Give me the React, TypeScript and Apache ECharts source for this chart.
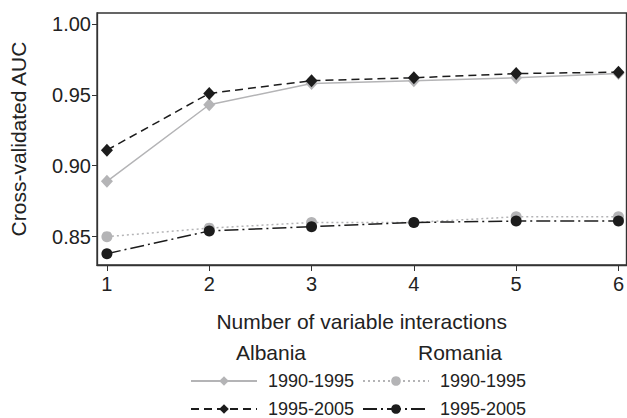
import React, { useEffect, useRef } from "react";
import * as echarts from "echarts";

const interactions = [1, 2, 3, 4, 5, 6];
const albania9095 = [0.889, 0.943, 0.958, 0.96, 0.962, 0.965];
const albania9505 = [0.911, 0.951, 0.96, 0.962, 0.965, 0.966];
const romania9095 = [0.85, 0.856, 0.86, 0.86, 0.864, 0.864];
const romania9505 = [0.838, 0.854, 0.857, 0.86, 0.861, 0.861];
const yTicks = [0.85, 0.9, 0.95, 1.0];
const countries = ["Albania", "Romania"];
const periods = ["1990-1995", "1995-2005"];

const GRAY = "#b4b4b6";
const BLACK = "#1c1c1c";
const FONT = "Liberation Sans, Arial, sans-serif";

function pairs(ys: number[]) {
  return interactions.map((x, i) => [x, ys[i]]);
}

export default function App() {
  const ref = useRef<HTMLDivElement>(null);
  useEffect(() => {
    if (!ref.current) return;
    const chart = echarts.init(ref.current, undefined, { renderer: "svg" });
    const mkLegend = (name: string, left: number, top: number) => ({
      data: [name],
      left,
      top,
      padding: 0,
      itemWidth: 66,
      itemHeight: 12,
      selectedMode: false,
      formatter: () => name.split("|")[1],
      textStyle: { fontSize: 18, lineHeight: 18, color: "#222", fontFamily: FONT, padding: [0, 0, 0, 6] },
    });
    const option = {
      animation: false,
      textStyle: { fontFamily: FONT },
      grid: {
        left: 95,
        top: 13,
        right: -2,
        bottom: 153,
        show: true,
        borderColor: "#333",
        borderWidth: 1.3,
      },
      xAxis: {
        type: "value",
        min: 0.903,
        max: 6.078,
        name: "Number of variable interactions",
        nameLocation: "middle",
        nameGap: 46,
        nameTextStyle: { fontSize: 21, color: "#222", fontFamily: FONT },
        axisLine: { show: true, lineStyle: { color: "#333", width: 1.3 } },
        axisTick: { show: true, customValues: interactions, length: 6, lineStyle: { color: "#333" } },
        axisLabel: { customValues: interactions, fontSize: 20, color: "#222", margin: 9, fontFamily: FONT },
        splitLine: { show: false },
      },
      yAxis: {
        type: "value",
        min: 0.83,
        max: 1.0077,
        name: "Cross-validated AUC",
        nameLocation: "middle",
        nameGap: 68,
        nameTextStyle: { fontSize: 21, color: "#222", fontFamily: FONT },
        axisLine: { show: true, lineStyle: { color: "#333", width: 1.3 } },
        axisTick: { show: true, customValues: yTicks, length: 5, lineStyle: { color: "#333" } },
        axisLabel: {
          customValues: yTicks,
          fontSize: 20,
          color: "#222",
          margin: 6,
          fontFamily: FONT,
          formatter: (v: number) => v.toFixed(2),
        },
        splitLine: { show: false },
      },
      legend: [
        mkLegend(countries[0] + "|" + periods[0], 190, 372),
        mkLegend(countries[0] + "|" + periods[1], 190, 400),
        mkLegend(countries[1] + "|" + periods[0], 362, 372),
        mkLegend(countries[1] + "|" + periods[1], 362, 400),
      ],
      graphic: [
        { type: "text", x: 271, y: 352, style: { text: countries[0], fill: "#222", font: `21px ${FONT}`, align: "center", verticalAlign: "middle" } },
        { type: "text", x: 460, y: 352, style: { text: countries[1], fill: "#222", font: `21px ${FONT}`, align: "center", verticalAlign: "middle" } },
      ],
      series: [
        {
          name: countries[0] + "|" + periods[0],
          type: "line",
          data: pairs(albania9095),
          symbol: "diamond",
          symbolSize: [12, 13],
          itemStyle: { color: GRAY },
          lineStyle: { color: GRAY, width: 1.5, type: "solid" },
          z: 2,
        },
        {
          name: countries[0] + "|" + periods[1],
          type: "line",
          data: pairs(albania9505),
          symbol: "diamond",
          symbolSize: [12, 13],
          itemStyle: { color: BLACK },
          lineStyle: { color: BLACK, width: 1.5, type: [8, 5] },
          z: 3,
        },
        {
          name: countries[1] + "|" + periods[0],
          type: "line",
          data: pairs(romania9095),
          symbol: "circle",
          symbolSize: 11,
          itemStyle: { color: GRAY },
          lineStyle: { color: GRAY, width: 1.5, type: [2, 3] },
          z: 2,
        },
        {
          name: countries[1] + "|" + periods[1],
          type: "line",
          data: pairs(romania9505),
          symbol: "circle",
          symbolSize: 11,
          itemStyle: { color: BLACK },
          lineStyle: { color: BLACK, width: 1.5, type: [14, 4, 2, 4] },
          z: 3,
        },
      ],
    };
    chart.setOption(option as any);
    return () => chart.dispose();
  }, []);
  return (
    <div
      ref={ref}
      style={{ position: "absolute", left: 0, top: 0, width: 627, height: 418, background: "#fff" }}
    />
  );
}
